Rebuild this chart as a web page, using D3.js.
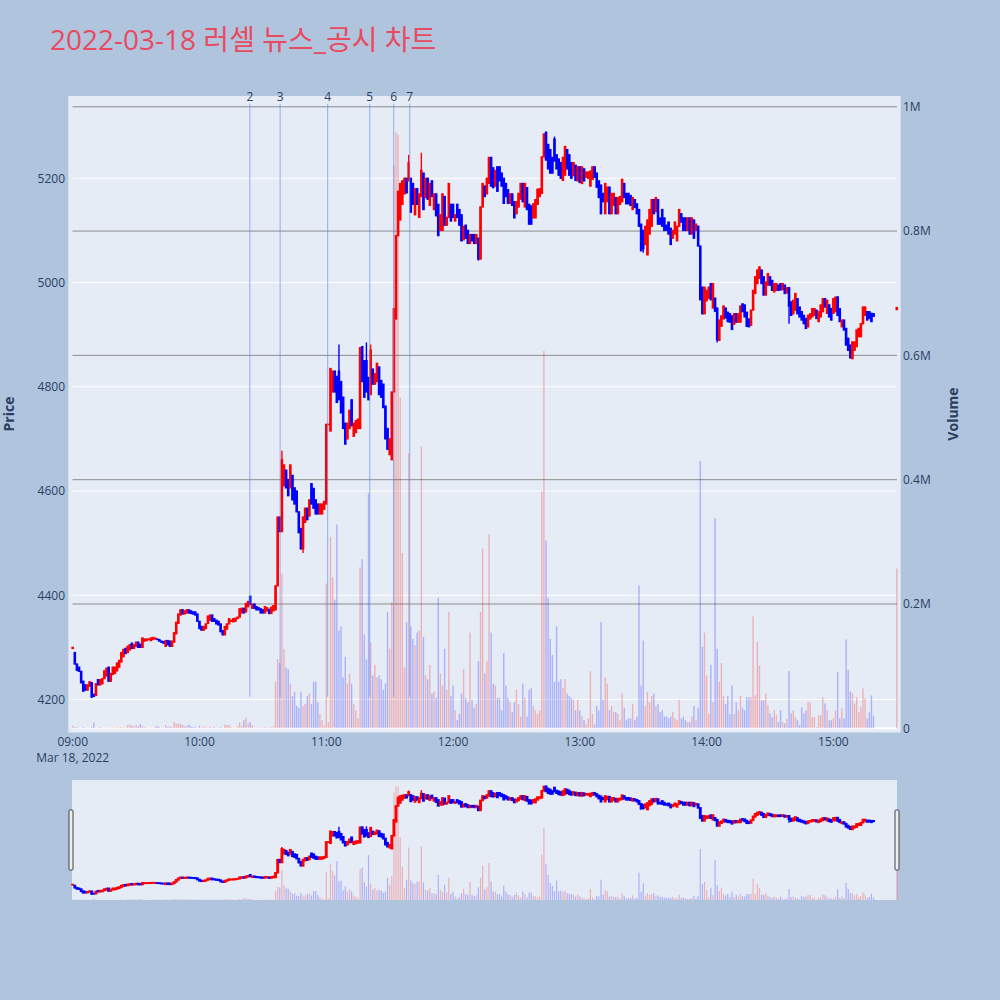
<!DOCTYPE html>
<html><head><meta charset="utf-8">
<script src="https://cdn.jsdelivr.net/npm/d3@7/dist/d3.min.js"></script>
<style>html,body{margin:0;padding:0;background:#B0C4DE;}svg{display:block;font-family:"Open Sans","Noto Sans CJK KR",sans-serif;}</style>
</head><body><svg id="chart" width="1000" height="1000"></svg>
<script>
const titleText = "2022-03-18 러셀 뉴스_공시 차트";
const sessionStart = [2022, 2, 18, 9, 0];   // one candle per minute from 09:00
const opens = [
4298,4290,4268,4262,4254,4235,4228,4218,4225,4232,
4210,4208,4238,4228,4230,4240,4245,4262,4235,4248,
4250,4255,4262,4272,4282,4298,4290,4295,4308,4298,
4302,4310,4306,4300,4312,4313,4315,4313,4315,4316,
4316,4315,4312,4311,4302,4313,4312,4302,4310,4326,
4346,4362,4372,4364,4366,4372,4370,4368,4368,4364,
4350,4340,4333,4336,4346,4352,4362,4355,4352,4350,
4345,4332,4324,4335,4345,4350,4349,4350,4355,4358,
4366,4375,4368,4378,4398,4375,4383,4378,4376,4374,
4372,4366,4370,4373,4365,4370,4372,4418,4550,4522,
4610,4640,4622,4606,4630,4606,4600,4560,4528,4489,
4540,4567,4552,4614,4605,4583,4575,4556,4556,4565,
4575,4728,4715,4790,4830,4820,4830,4810,4780,4730,
4700,4720,4775,4705,4712,4720,4720,4877,4850,4850,
4818,4785,4834,4805,4810,4838,4812,4805,4763,4720,
4670,4660,4790,4930,5090,5120,5150,5170,5200,5195,
5200,5190,5130,5180,5125,5165,5210,5163,5200,5148,
5195,5140,5170,5150,5100,5100,5165,5110,5125,5150,
5150,5118,5150,5140,5130,5082,5110,5100,5075,5092,
5092,5075,5085,5045,5145,5185,5170,5190,5240,5220,
5185,5222,5222,5210,5200,5190,5178,5152,5170,5155,
5132,5145,5160,5190,5145,5182,5150,5147,5124,5124,
5150,5165,5171,5241,5288,5265,5255,5240,5275,5245,
5237,5230,5196,5206,5255,5245,5230,5205,5225,5195,
5222,5190,5218,5202,5200,5185,5198,5222,5210,5195,
5187,5171,5132,5155,5183,5132,5148,5163,5132,5150,
5155,5190,5171,5171,5167,5140,5159,5151,5140,5112,
5100,5073,5053,5093,5108,5159,5136,5159,5124,5140,
5124,5110,5116,5104,5085,5093,5080,5108,5132,5124,
5124,5100,5124,5093,5120,5100,5108,5070,4991,4940,
4965,4970,4998,4951,4970,4951,4889,4916,4930,4951,
4943,4940,4936,4920,4940,4924,4924,4959,4957,4943,
4930,4918,4947,4979,4998,5008,5024,5011,4976,4995,
5011,5004,4982,4985,4995,4998,4986,4995,4980,4990,
4963,4940,4947,4969,4953,4944,4937,4931,4915,4930,
4934,4937,4947,4925,4934,4944,4969,4941,4957,4950,
4941,4944,4972,4950,4915,4928,4912,4893,4880,4854,
4870,4877,4896,4896,4921,4937,4944,4944,4941,4940];
const closes = [
4300,4268,4256,4254,4232,4216,4218,4228,4234,4205,
4206,4230,4228,4238,4240,4255,4260,4235,4250,4262,
4262,4270,4275,4290,4296,4288,4302,4305,4298,4305,
4310,4300,4300,4318,4316,4316,4316,4318,4319,4318,
4315,4312,4310,4308,4313,4305,4302,4312,4328,4348,
4364,4372,4364,4370,4372,4366,4365,4364,4362,4350,
4336,4333,4340,4345,4360,4362,4350,4350,4345,4343,
4330,4324,4340,4345,4355,4352,4355,4356,4358,4374,
4375,4366,4384,4388,4382,4383,4375,4372,4372,4366,
4366,4378,4376,4365,4377,4380,4418,4550,4522,4660,
4650,4606,4591,4650,4583,4575,4560,4520,4489,4550,
4567,4545,4583,4575,4567,4556,4556,4575,4575,4580,
4728,4728,4835,4830,4790,4770,4775,4750,4720,4690,
4730,4755,4725,4730,4735,4738,4875,4810,4780,4790,
4775,4870,4805,4825,4845,4785,4780,4760,4700,4680,
4700,4790,4950,5090,5175,5190,5195,5200,5172,5230,
5135,5150,5180,5150,5170,5215,5140,5200,5160,5190,
5165,5170,5128,5090,5130,5170,5110,5125,5190,5118,
5125,5130,5125,5110,5080,5108,5085,5075,5092,5080,
5075,5092,5045,5145,5190,5165,5200,5240,5185,5182,
5215,5175,5195,5185,5152,5165,5152,5170,5148,5124,
5155,5171,5190,5155,5190,5140,5112,5112,5151,5159,
5179,5180,5241,5285,5235,5218,5210,5210,5233,5218,
5206,5200,5240,5261,5218,5206,5200,5230,5196,5222,
5192,5222,5195,5212,5212,5214,5222,5202,5183,5163,
5132,5155,5190,5183,5132,5171,5171,5132,5163,5165,
5198,5163,5151,5151,5148,5163,5144,5132,5108,5061,
5065,5108,5120,5140,5159,5132,5163,5112,5112,5108,
5100,5100,5093,5073,5100,5116,5108,5140,5116,5100,
5100,5124,5093,5124,5085,5112,5070,4967,4940,4991,
4985,4991,4967,4998,4945,4890,4928,4936,4955,4932,
4925,4924,4910,4940,4924,4940,4955,4944,4934,4916,
4915,4947,4985,5011,5024,5030,4998,4976,5001,5017,
4995,4985,4998,4998,4985,4986,4998,4979,4990,4955,
4937,4966,4979,4940,4934,4928,4921,4912,4937,4940,
4950,4950,4931,4944,4957,4969,4953,4966,4934,4928,
4969,4972,4937,4925,4928,4909,4880,4870,4856,4886,
4886,4909,4912,4921,4953,4953,4928,4931,4925,4935];
const volumesK = [
4,2,2,1,1,2,1,1,1,2,
9,1,1,2,1,1,1,1,1,1,
1,2,1,2,1,1,5,6,4,3,
5,3,7,4,2,1,1,1,1,3,
4,2,1,1,5,2,3,2,10,7,
8,7,5,3,4,6,3,2,2,1,
4,1,3,2,1,3,1,2,1,1,
2,1,6,5,5,2,1,1,3,9,
4,13,17,8,10,5,1,1,1,1,
1,2,1,1,2,3,75,111,105,249,
128,98,95,72,52,59,36,33,59,36,
39,52,56,39,75,75,42,23,13,5,
233,10,308,243,207,328,157,164,82,115,
72,88,72,39,29,16,259,272,151,111,
378,138,85,102,82,85,79,62,72,187,
128,203,906,959,955,532,282,98,171,443,
164,144,134,154,157,453,147,85,79,102,
56,59,49,210,88,69,128,62,187,52,
69,29,13,23,56,95,49,42,154,46,
33,39,108,187,289,88,108,312,154,72,
69,49,49,29,121,69,49,42,26,42,
62,39,19,72,49,19,62,65,36,29,
23,29,381,607,302,210,144,118,75,164,
75,79,65,79,56,52,49,46,29,46,
29,19,13,6,16,92,23,6,36,29,
171,46,82,72,29,36,26,26,23,13,
56,33,13,16,16,39,13,19,230,69,
141,36,59,42,52,56,36,39,26,29,
19,19,16,19,26,16,13,46,16,19,
13,10,10,19,36,13,33,430,131,154,
85,23,102,42,338,128,75,105,52,39,
52,23,69,23,42,29,52,33,29,50,
50,50,180,53,139,101,45,45,56,37,
24,18,29,21,10,29,10,8,15,92,
24,29,18,13,5,34,24,29,42,42,
18,18,2,21,21,50,40,29,13,13,
16,29,91,16,32,16,143,94,59,57,
40,50,26,34,64,48,16,26,53,20];
const highWickMinutes = [99,126,139,141,159,165,224,228,362];
const highWickValues  = [4677,4881,4885,4881,5245,5249,5290,5280,4974];
const lowWickMinutes  = [9,109,192,270,272,305,339,368];
const lowWickValues   = [4203,4481,5042,5057,5053,4885,4921,4854];
// closing auction print
const auctionMinute = 390, auctionOpen = 4948, auctionClose = 4952, auctionVolumeK = 257;
// news markers
const newsLabels = ["2","3","4","5","6","7"];
const newsTimes = ["10:23:50","10:38:10","11:00:40","11:20:35","11:31:55","11:39:30"];
const newsLineRange = [4205, 5343];
const priceTicks = [4200,4400,4600,4800,5000,5200];
const volumeTicks = [0,200000,400000,600000,800000,1000000];
const volumeTickLabels = ["0","0.2M","0.4M","0.6M","0.8M","1M"];
const hourTicks = ["09:00","10:00","11:00","12:00","13:00","14:00","15:00"];

const start = new Date(...sessionStart);
const tAt = m => new Date(start.getTime() + m * 60000);
const parseHMS = s => { const [h,mi,se] = s.split(":").map(Number); return new Date(2022,2,18,h,mi,se||0); };

const candles = opens.map((o,i) => ({t:tAt(i), o, c:closes[i], v:volumesK[i]*1000, i}));
candles.push({t:tAt(auctionMinute), o:auctionOpen, c:auctionClose, v:auctionVolumeK*1000, i:auctionMinute});
candles.forEach(d => {
  d.h = Math.max(d.o,d.c); d.l = Math.min(d.o,d.c);
  const hi = highWickMinutes.indexOf(d.i); if (hi>=0) d.h = Math.max(d.h, highWickValues[hi]);
  const li = lowWickMinutes.indexOf(d.i); if (li>=0) d.l = Math.min(d.l, lowWickValues[li]);
  d.up = d.c >= d.o;
});

const svg = d3.select("#chart");
const TXT = "#2a3f5f";
const UP = "#ff0000", DN = "#0000ff";

// main plot geometry
const P = {l:72.7, r:896.8, t:100, b:728.3};
const x = d3.scaleTime().domain([tAt(0), tAt(390)]).range([P.l, P.r]);
const yP = d3.scaleLinear().domain([4144.7, 5350.2]).range([P.b, P.t]);
const yV = d3.scaleLinear().domain([0, 1010900]).range([P.b, P.t]);
// range slider geometry
const S = {t:780, b:900};
const yPs = d3.scaleLinear().domain(yP.domain()).range([S.b, S.t]);
const yVs = d3.scaleLinear().domain(yV.domain()).range([S.b, S.t]);

// title
svg.append("text").attr("x",50).attr("y",50).attr("font-size",28).attr("fill","#E84A5F")
  .attr("font-family","'Open Sans','Noto Sans CJK KR',sans-serif").text(titleText);

// plot background
svg.append("rect").attr("x",68.3).attr("y",96).attr("width",900.7-68.3).attr("height",732.5-96).attr("fill","#E5ECF6");

// price gridlines (white)
svg.append("g").selectAll("line").data(priceTicks).join("line")
  .attr("x1",72.5).attr("x2",897).attr("y1",d=>yP(d)).attr("y2",d=>yP(d))
  .attr("stroke","#fff").attr("stroke-width",1);
// volume gridlines (gray)
svg.append("g").selectAll("line").data(volumeTicks.slice(1)).join("line")
  .attr("x1",72.5).attr("x2",897).attr("y1",d=>yV(d)).attr("y2",d=>yV(d))
  .attr("stroke","#8c8c8c").attr("stroke-width",1);
svg.append("line").attr("x1",72.5).attr("x2",897).attr("y1",yV(0)).attr("y2",yV(0)).attr("stroke","#fff").attr("stroke-width",2);

function drawCandles(g, ys, bodyW, sw){
  g.selectAll("line.w").data(candles).join("line").attr("class","w")
    .attr("x1",d=>x(d.t)).attr("x2",d=>x(d.t)).attr("y1",d=>ys(d.h)).attr("y2",d=>ys(d.l))
    .attr("stroke",d=>d.up?UP:DN).attr("stroke-width",1.4);
  g.selectAll("rect.b").data(candles).join("rect").attr("class","b")
    .attr("x",d=>x(d.t)-bodyW/2).attr("width",bodyW)
    .attr("y",d=>ys(Math.max(d.o,d.c)))
    .attr("height",d=>Math.max(0.3, ys(Math.min(d.o,d.c))-ys(Math.max(d.o,d.c))))
    .attr("fill",d=>d.up?UP:DN).attr("stroke",d=>d.up?UP:DN).attr("stroke-width",sw);
}
function drawVolume(g, ys, w){
  g.selectAll("rect").data(candles).join("rect")
    .attr("x",d=>x(d.t)-w/2).attr("width",w)
    .attr("y",d=>ys(d.v)).attr("height",d=>ys(0)-ys(d.v))
    .attr("fill",d=>d.up?UP:DN).attr("opacity",0.25);
}
drawCandles(svg.append("g"), yP, 1.3, 1.3);
drawVolume(svg.append("g"), yV, 1.4);

// news vertical lines
const ng = svg.append("g");
newsTimes.forEach((s,k) => {
  const xx = x(parseHMS(s));
  ng.append("line").attr("x1",xx).attr("x2",xx).attr("y1",yP(newsLineRange[1])).attr("y2",yP(newsLineRange[0]))
    .attr("stroke","#6f8ff0").attr("stroke-opacity",0.7).attr("stroke-width",1);
  ng.append("text").attr("x",xx).attr("y",100.5).attr("text-anchor","middle").attr("font-size",12)
    .attr("fill",TXT).text(newsLabels[k]);
});

// left price axis labels
svg.append("g").selectAll("text").data(priceTicks).join("text")
  .attr("x",65).attr("y",d=>yP(d)+4.3).attr("text-anchor","end").attr("font-size",12).attr("fill",TXT).text(d=>d);
// right volume axis labels
svg.append("g").selectAll("text").data(volumeTicks).join("text")
  .attr("x",903).attr("y",d=>yV(d)+4.3).attr("text-anchor","start").attr("font-size",12).attr("fill",TXT)
  .text((d,i)=>volumeTickLabels[i]);
// x axis labels
svg.append("g").selectAll("text").data(hourTicks).join("text")
  .attr("x",d=>x(parseHMS(d))).attr("y",745.5).attr("text-anchor","middle").attr("font-size",12).attr("fill",TXT).text(d=>d);
svg.append("text").attr("x",x(tAt(0))).attr("y",761.5).attr("text-anchor","middle").attr("font-size",12).attr("fill",TXT)
  .text(d3.timeFormat("%b %-d, %Y")(start));
// axis titles
svg.append("text").attr("transform","translate(14,414) rotate(-90)").attr("text-anchor","middle")
  .attr("font-size",14).attr("font-weight","bold").attr("fill",TXT).text("Price");
svg.append("text").attr("transform","translate(958,414) rotate(-90)").attr("text-anchor","middle")
  .attr("font-size",14).attr("font-weight","bold").attr("fill",TXT).text("Volume");

// range slider
svg.append("rect").attr("x",72).attr("y",S.t).attr("width",897-72).attr("height",S.b-S.t).attr("fill","#E5ECF6");
drawCandles(svg.append("g"), yPs, 1.3, 1.6);
drawVolume(svg.append("g"), yVs, 1.2);
[[69,810],[895,810]].forEach(([hx,hy]) => {
  svg.append("rect").attr("x",hx).attr("y",hy).attr("width",4).attr("height",60).attr("rx",1)
    .attr("fill","#eee").attr("stroke","#444").attr("stroke-width",1);
});
</script></body></html>
